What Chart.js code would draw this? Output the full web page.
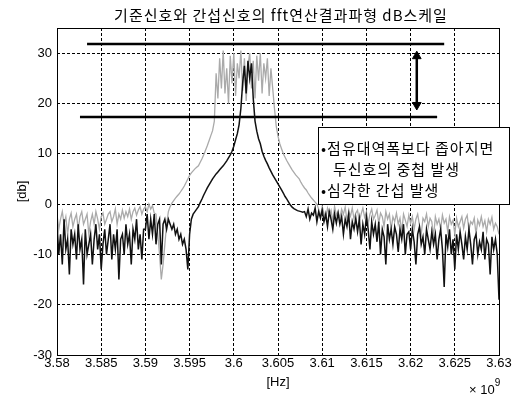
<!DOCTYPE html>
<html>
<head>
<meta charset="utf-8">
<script src="https://cdn.jsdelivr.net/npm/chart.js@4"></script>
<style>
  html, body { margin: 0; padding: 0; background: #fff; }
</style>
</head>
<body>
<canvas id="fftChart" width="519" height="396"></canvas>
<script>
// Chart text
const chartTitle = "기준신호와 간섭신호의 fft연산결과파형 dB스케일";
const noteLines = ["•점유대역폭보다 좁아지면", "두신호의 중첩 발생", "•심각한 간섭 발생"];

// Frequency axis in units of 1e9 Hz, one sample every 0.0002
const freqStart = 3.58;
const freqStep = 0.0002;
const xTickValues = [3.58, 3.585, 3.59, 3.595, 3.6, 3.605, 3.61, 3.615, 3.62, 3.625, 3.63];
const yTickValues = [-30, -20, -10, 0, 10, 20, 30];

// Interfering signal spectrum (black), dB
const blackDb = [
  -4, -10, -6, -12, -3, -9, -7, -14, -5, -8,
  -6, -11, -4, -9, -7, -16, -5, -10, -8, -6,
  -12, -7, -4, -9, -6, -13, -8, -5, -10, -7,
  -4, -11, -6, -9, -5, -15, -7, -6, -10, -4,
  -8, -6, -12, -5, -7, -3, -9, -6, -11, -5,
  -5, -2, -7, -3, -6, -2, -8, -4, -3, -12,
  -4, -3, -5, -3, -4, -5, -4, -6, -5, -7,
  -6, -8, -7, -9, -13, -6, -3, -2, -1.5, -1,
  -0.5, 0.3, 1, 1.8, 2.5, 3.2, 3.8, 4.4, 5, 5.5,
  6, 6.4, 6.8, 7.2, 7.6, 8.1, 8.6, 9.2, 9.8, 10.5,
  11.5, 12.8, 14, 15.8, 19, 24, 27.5, 22, 28.5, 25,
  28, 21, 16.5, 14.5, 13, 12, 10.5, 9.5, 8.7, 8,
  7.2, 6.5, 5.8, 5.2, 4.6, 4, 3.4, 2.8, 2.2, 1.5,
  1, 0.4, -0.2, -0.6, -0.9, -1.1, -1.3, -1.4, -1.5, -1.6,
  -1.5, -2.5, -1, -3, -1.8, -2.2, -0.8, -3.5, -1.5, -2.8,
  -1.2, -3.5, -2, -4.5, -1.5, -3, -5, -2, -3.8, -1.8,
  -4, -2.5, -6, -3, -4.5, -2, -7, -3.5, -5, -2.8,
  -5.5, -3, -8, -4, -6, -2.5, -5, -9, -3.5, -6,
  -4, -7.5, -3.5, -10, -5, -6.5, -12, -4, -7, -5,
  -8, -4.5, -6, -9.5, -5, -7, -4, -10, -6, -5.5,
  -9, -5, -7.5, -12, -6, -4.5, -8, -6.5, -10, -5,
  -7, -9, -5.5, -8, -6, -11, -7, -5, -9, -16.5,
  -6, -8.5, -5, -10, -7, -13, -6, -9, -5.5, -8,
  -11, -6.5, -9, -5, -8, -12, -7, -6, -10, -7.5,
  -9, -5.5, -11, -7, -8, -14, -6.5, -9, -7, -10, -19
];

// Reference signal spectrum (gray), dB
const grayDb = [
  -2, -5, -3, -1.5, -4, -2.5, -6, -3, -1.8, -4.5,
  -3, -2, -5, -2.5, -1.5, -4, -3, -2, -6, -3.5,
  -2, -4, -1.5, -3, -5, -2.5, -1.8, -4, -3, -2,
  -1.5, -3.5, -2.5, -1, -4, -2, -3, -1.2, -2.8, -1.5,
  -2.5, -1, -3, -1.5, -0.8, -2.2, -1.2, -0.5, -2, -1,
  -0.5, -1.5, 0, -1, -0.3, -1.8, -2, -6, -10, -15,
  -12, -8, -4, -1.5, -0.5, 0.2, 0.7, 1.2, 1.6, 2,
  2.5, 3, 3.6, 4.3, 5, 5.7, 6.2, 6.6, 7, 7.3,
  7.6, 8.3, 9, 9.8, 10.7, 11.6, 12.6, 13.6, 14.6, 16.5,
  26, 21, 29, 23, 30.5, 22, 27, 20, 29.5, 24,
  30, 21.5, 28, 25, 30.5, 22.5, 29, 20.5, 27.5, 30,
  23, 28.5, 21, 29.5, 24.5, 30, 22, 28, 25, 29,
  21.5, 27, 23, 19, 15.5, 13.5, 12, 11, 10, 9.3,
  8.6, 8, 7.4, 6.8, 6.3, 5.8, 5.4, 5, 4.3, 3.7,
  3.2, 2.8, 2.2, 1.7, 1.2, 0.8, 0.4, 0, -1, -2.5,
  -0.5, -1.8, -3, -0.8, -2, -1.2, -3.5, -0.5, -2.2, -1.5,
  -2.8, -1, -2, -0.6, -3.2, -1.5, -2.4, -0.8, -3, -1.8,
  -1.2, -3.5, -2, -0.8, -2.6, -1.5, -4, -2, -1, -3,
  -2.2, -1.2, -3.8, -1.8, -2.5, -4.5, -1.5, -3, -2, -5,
  -2.5, -3.5, -1.8, -4, -2.8, -5.5, -2, -3.2, -4.5, -2.2,
  -3.8, -2.5, -5, -3, -2, -4.2, -6, -2.8, -3.5, -2,
  -4.5, -2.8, -3.5, -6.5, -2.5, -4, -3, -5, -2.2, -3.8,
  -3, -5.5, -2.5, -4, -3.2, -6, -2.8, -4.5, -3.5, -2.5,
  -4.8, -3, -2.2, -5.2, -3.5, -4, -2.8, -6, -3.2, -4.2,
  -2.5, -4.5, -3.3, -5.5, -3, -4, -2.6, -5, -3.8, -4.5, -6
];

// Hand drawn level markers
const upperLineFreq = [3.5834, 3.6238];
const upperLineDb = [31.8, 31.8];
const lowerLineFreq = [3.5826, 3.623];
const lowerLineDb = [17.3, 17.3];
const arrowFreq = [3.6207, 3.6207];
const arrowDb = [29.4, 19.7];

const freqGHz = blackDb.map((_, i) => freqStart + i * freqStep);

function toPoints(xs, ys) {
  return xs.map((x, i) => ({ x: x, y: ys[i] }));
}

// Frame, note box, title and exponent label
const overlayPlugin = {
  id: "overlay",
  afterDatasetsDraw(chart) {
    const { ctx, chartArea: a } = chart;
    ctx.save();
    ctx.strokeStyle = "#000";
    ctx.lineWidth = 1;
    ctx.strokeRect(a.left + 0.5, a.top + 0.5, a.right - a.left, a.bottom - a.top);

    // note box
    const box = { left: 318, top: 127, right: 509, bottom: 204 };
    ctx.fillStyle = "#fff";
    ctx.fillRect(box.left, box.top, box.right - box.left, box.bottom - box.top);
    ctx.strokeRect(box.left + 0.5, box.top + 0.5, box.right - box.left, box.bottom - box.top);
    ctx.fillStyle = "#000";
    ctx.font = '15px "Noto Sans CJK KR"';
    ctx.letterSpacing = "1px";
    ctx.textAlign = "left";
    ctx.textBaseline = "middle";
    ctx.fillText(noteLines[0], box.left + 3, 148);
    ctx.fillText(noteLines[1], box.left + 15, 169);
    ctx.fillText(noteLines[2], box.left + 3, 190);
    ctx.restore();
  },
  afterDraw(chart) {
    const { ctx, chartArea: a } = chart;
    ctx.save();
    ctx.fillStyle = "#000";
    ctx.font = '15px "Noto Sans CJK KR"';
    ctx.letterSpacing = "1px";
    ctx.textAlign = "center";
    ctx.textBaseline = "middle";
    ctx.fillText(chartTitle, (a.left + a.right) / 2 + 3, 15);

    ctx.letterSpacing = "0px";
    ctx.font = '13px "Liberation Sans"';
    ctx.textAlign = "left";
    ctx.fillText("× 10", 469, 390);
    const w = ctx.measureText("× 10").width;
    ctx.font = '10px "Liberation Sans"';
    ctx.fillText("9", 469 + w, 383);
    ctx.restore();
  },
};

const ctx = document.getElementById("fftChart").getContext("2d");
new Chart(ctx, {
  type: "line",
  data: {
    datasets: [
      {
        label: "interference",
        data: toPoints(freqGHz, blackDb),
        borderColor: "#111",
        borderWidth: 1.5,
        pointRadius: 0,
        order: 0,
      },
      {
        label: "reference",
        data: toPoints(freqGHz, grayDb),
        borderColor: "#aaaaaa",
        borderWidth: 1.3,
        pointRadius: 0,
        order: 1,
      },
      {
        label: "upper level",
        data: toPoints(upperLineFreq, upperLineDb),
        borderColor: "#000",
        borderWidth: 2.5,
        pointRadius: 0,
        order: 0,
      },
      {
        label: "lower level",
        data: toPoints(lowerLineFreq, lowerLineDb),
        borderColor: "#000",
        borderWidth: 2.5,
        pointRadius: 0,
        order: 0,
      },
      {
        label: "gap arrow",
        data: toPoints(arrowFreq, arrowDb),
        borderColor: "#000",
        backgroundColor: "#000",
        borderWidth: 2.5,
        pointStyle: "triangle",
        pointRadius: 5,
        pointBorderWidth: 1,
        pointRotation: [0, 180],
        order: 0,
      },
    ],
  },
  options: {
    responsive: false,
    animation: false,
    events: [],
    layout: {
      padding: { left: 0, right: 20, top: 28, bottom: 0 },
    },
    plugins: {
      legend: { display: false },
      tooltip: { enabled: false },
    },
    scales: {
      x: {
        type: "linear",
        min: 3.58,
        max: 3.63,
        afterBuildTicks: (scale) => {
          scale.ticks = xTickValues.map((v) => ({ value: v }));
        },
        afterFit: (scale) => {
          scale.height = 41;
        },
        ticks: {
          autoSkip: false,
          maxRotation: 0,
          padding: 1,
          color: "#000",
          font: { family: "Liberation Sans", size: 13 },
          callback: (value) => String(Number(value.toFixed(3))),
        },
        grid: {
          color: "#000",
          lineWidth: 1,
          drawTicks: false,
        },
        border: { display: false, dash: [3, 2] },
        title: {
          display: true,
          text: "[Hz]",
          color: "#000",
          font: { family: "Liberation Sans", size: 13 },
          padding: { top: 0, bottom: 6 },
        },
      },
      y: {
        min: -30,
        max: 35,
        afterBuildTicks: (scale) => {
          scale.ticks = yTickValues.map((v) => ({ value: v }));
        },
        afterFit: (scale) => {
          scale.width = 57;
        },
        ticks: {
          padding: 5,
          color: "#000",
          font: { family: "Liberation Sans", size: 13 },
        },
        grid: {
          color: "#000",
          lineWidth: 1,
          drawTicks: false,
        },
        border: { display: false, dash: [3, 2] },
        title: {
          display: true,
          text: "[db]",
          color: "#000",
          font: { family: "Liberation Sans", size: 13 },
          padding: { top: 15, bottom: 0 },
        },
      },
    },
  },
  plugins: [overlayPlugin],
});
</script>
</body>
</html>
